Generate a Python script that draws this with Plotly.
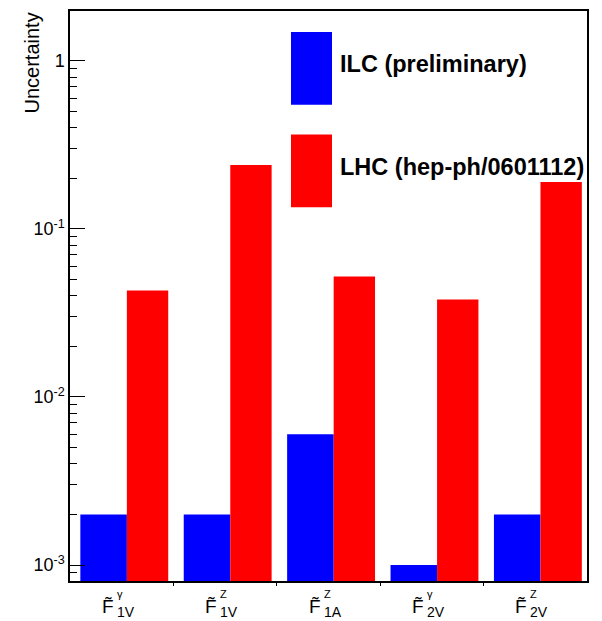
import plotly.graph_objects as go

categories = ["F1V_gamma", "F1V_Z", "F1A_Z", "F2V_gamma", "F2V_Z"]
label_sup = ["γ", "Z", "Z", "γ", "Z"]
label_sub = ["1V", "1V", "1A", "2V", "2V"]
ilc_values = [0.002, 0.002, 0.006, 0.001, 0.002]
lhc_values = [0.043, 0.24, 0.052, 0.038, 0.19]
series_names = ["ILC (preliminary)", "LHC (hep-ph/0601112)"]
ytick_vals = [0.001, 0.01, 0.1, 1]
ytick_text = ["10<sup>-3</sup>", "10<sup>-2</sup>", "10<sup>-1</sup>", "1"]

BLUE = "#0000ff"
RED = "#ff0000"

xpos = list(range(len(categories)))

fig = go.Figure()
fig.add_trace(go.Bar(x=xpos, y=ilc_values, offset=0.1, width=0.45,
                     marker=dict(color=BLUE, line=dict(width=0)),
                     name=series_names[0], showlegend=False))
fig.add_trace(go.Bar(x=xpos, y=lhc_values, offset=0.55, width=0.4,
                     marker=dict(color=RED, line=dict(width=0)),
                     name=series_names[1], showlegend=False))

minor_vals = []
for e in [-4, -3, -2, -1, 0]:
    for d in range(2, 10):
        v = d * 10 ** e
        if 10 ** -3.095 < v < 10 ** 0.296:
            minor_vals.append(v)

fig.update_layout(
    width=602, height=621,
    margin=dict(l=70, r=15, t=9, b=40),
    paper_bgcolor="white", plot_bgcolor="white",
    barmode="overlay",
    font=dict(family="Liberation Sans, Arial, sans-serif", color="black"),
    xaxis=dict(range=[0, 5], showgrid=False, zeroline=False,
               showline=True, linecolor="black", linewidth=1.5, mirror=True,
               tickvals=[1, 2, 3, 4], showticklabels=False,
               ticks="outside", ticklen=3, tickcolor="black"),
    yaxis=dict(type="log", range=[-3.095, 0.296], showgrid=False, zeroline=False,
               showline=True, linecolor="black", linewidth=1.5, mirror=True,
               tickvals=ytick_vals, ticktext=ytick_text,
               ticks="inside", ticklen=15, tickcolor="black", tickwidth=1,
               tickfont=dict(size=18),
               minor=dict(tickvals=minor_vals, ticks="inside", ticklen=7,
                          tickcolor="black", tickwidth=1, showgrid=False)),
)

# y-axis title, aligned to the top of the axis
fig.add_annotation(text="Uncertainty", xref="paper", yref="paper",
                   x=0, y=1, xshift=-39, yanchor="top", xanchor="center",
                   textangle=-90, showarrow=False, font=dict(size=20))

# category labels: F with combining tilde, plus superscript and subscript
for i in xpos:
    cx = i + 0.5
    fig.add_annotation(text="F\u0303", xref="x", yref="paper", x=cx, y=0,
                       xanchor="right", yanchor="top", xshift=-6, yshift=-13,
                       showarrow=False, font=dict(size=19))
    fig.add_annotation(text=label_sup[i], xref="x", yref="paper", x=cx, y=0,
                       xanchor="left", yanchor="top", xshift=-7, yshift=-5,
                       showarrow=False, font=dict(size=11))
    fig.add_annotation(text=label_sub[i], xref="x", yref="paper", x=cx, y=0,
                       xanchor="left", yanchor="top", xshift=-7, yshift=-21,
                       showarrow=False, font=dict(size=14))

# legend boxes and texts
legend_colors = [BLUE, RED]
box_top = [30, 133]
for k in range(2):
    y0 = 1 - (box_top[k] - 9) / 572
    y1 = 1 - (box_top[k] + 73 - 9) / 572
    fig.add_shape(type="rect", xref="paper", yref="paper",
                  x0=(291 - 70) / 517, x1=(332 - 70) / 517, y0=y1, y1=y0,
                  fillcolor=legend_colors[k], line=dict(width=0), layer="above")
    fig.add_annotation(text="<b>%s</b>" % series_names[k], xref="paper", yref="paper",
                       x=(338 - 70) / 517, y=(y0 + y1) / 2, yshift=4,
                       xanchor="left", yanchor="middle", showarrow=False,
                       font=dict(size=23.5))

fig.write_html("out.html")
